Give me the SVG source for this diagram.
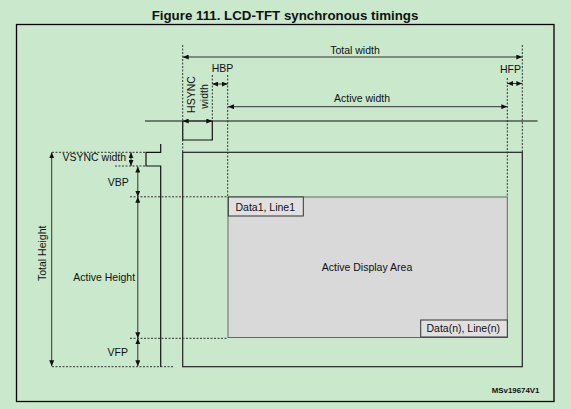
<svg xmlns="http://www.w3.org/2000/svg" width="571" height="409" viewBox="0 0 571 409">
<defs>
<marker id="ah" viewBox="0 0 6 5" refX="6" refY="2.5" markerWidth="6" markerHeight="5" markerUnits="userSpaceOnUse" orient="auto-start-reverse">
<path d="M0,0 L6,2.5 L0,5 z" fill="#111"/>
</marker>
</defs>
<style>
text{font-family:"Liberation Sans",Arial,sans-serif;font-size:10.5px;fill:#111}
.title{font-size:13.3px;font-weight:bold}
.mid{text-anchor:middle}
.dash{stroke:#333;stroke-width:1;stroke-dasharray:2,1.5;fill:none}
.arr{stroke:#333;stroke-width:1;marker-start:url(#ah);marker-end:url(#ah)}
.sig{stroke:#111;stroke-width:1.2;fill:none}
.ref{font-size:7.9px;font-weight:bold;text-anchor:end}
</style>
<rect width="571" height="409" fill="#cae8cb"/>
<rect x="16.5" y="24.5" width="537.5" height="377" fill="none" stroke="#000" stroke-width="1.3"/>
<text class="title mid" x="285" y="19.5">Figure 111. LCD-TFT synchronous timings</text>

<g id="panel">
<rect x="182.7" y="152.3" width="339.6" height="214.4" fill="none" stroke="#222" stroke-width="1.2"/>
</g>
<g id="active-area">
<rect x="228" y="197" width="279.3" height="140.5" fill="#d9d9d9" stroke="#666" stroke-width="1"/>
<text class="mid" x="367" y="270.5">Active Display Area</text>
</g>
<g id="data1">
<rect x="228.3" y="197" width="75" height="19" fill="#e0e0e0" stroke="#333" stroke-width="1"/>
<text x="235.5" y="210.5">Data1, Line1</text>
</g>
<g id="datan">
<rect x="420.7" y="320" width="86.6" height="17" fill="#e0e0e0" stroke="#333" stroke-width="1"/>
<text x="426.5" y="332">Data(n), Line(n)</text>
</g>
<g id="hsync">
<line class="sig" x1="145" y1="121" x2="537.5" y2="121"/>
<polyline class="sig" points="182.7,121 182.7,140 212.3,140 212.3,121"/>
</g>
<g id="vsync">
<polyline class="sig" points="160.7,144 160.7,152.3 146,152.3 146,166 160.7,166 160.7,367"/>
</g>

<g id="connectors">
<line class="dash" x1="182.7" y1="45" x2="182.7" y2="152"/>
<line class="dash" x1="522.3" y1="45" x2="522.3" y2="152"/>
<line class="dash" x1="212.3" y1="75" x2="212.3" y2="121"/>
<line class="dash" x1="227.7" y1="75" x2="227.7" y2="197"/>
<line class="dash" x1="507.3" y1="78" x2="507.3" y2="197"/>
<line class="dash" x1="52" y1="152.3" x2="146" y2="152.3"/>
<line class="dash" x1="115" y1="166" x2="146" y2="166"/>
<line class="dash" x1="130" y1="196.8" x2="228" y2="196.8"/>
<line class="dash" x1="130" y1="338.3" x2="228" y2="338.3"/>
<line class="dash" x1="52" y1="366.7" x2="173" y2="366.7"/>

<line class="arr" x1="182.7" y1="57" x2="522.3" y2="57"/>
<line class="arr" x1="228" y1="106.7" x2="507.3" y2="106.7"/>
<line class="arr" x1="212.3" y1="84" x2="227.7" y2="84"/>
<line class="arr" x1="507.3" y1="83.5" x2="522.3" y2="83.5"/>
<line class="arr" x1="182.7" y1="121" x2="212.3" y2="121"/>
<line class="arr" x1="51.7" y1="152.3" x2="51.7" y2="366.2"/>
<line class="arr" x1="131" y1="152.3" x2="131" y2="166"/>
<line class="arr" x1="137.8" y1="166.5" x2="137.8" y2="196.8"/>
<line class="arr" x1="137.8" y1="196.8" x2="137.8" y2="338.3"/>
<line class="arr" x1="137.8" y1="338.3" x2="137.8" y2="366.2"/>
</g>

<g id="labels">
<text class="mid" x="355" y="53.5">Total width</text>
<text class="mid" x="222.5" y="72">HBP</text>
<text class="mid" x="510.5" y="72.5">HFP</text>
<text class="mid" x="362" y="101.5">Active width</text>
<text class="mid" transform="translate(195,94.5) rotate(-90)">HSYNC</text>
<text class="mid" transform="translate(208.3,96.5) rotate(-90)">width</text>
<text x="62.5" y="161">VSYNC width</text>
<text class="mid" x="118.3" y="186">VBP</text>
<text class="mid" x="104.2" y="280.5">Active Height</text>
<text class="mid" x="117.7" y="356">VFP</text>
<text class="mid" transform="translate(45.5,253.3) rotate(-90)">Total Height</text>
<text class="ref" x="539.5" y="392.5">MSv19674V1</text>
</g>
</svg>
